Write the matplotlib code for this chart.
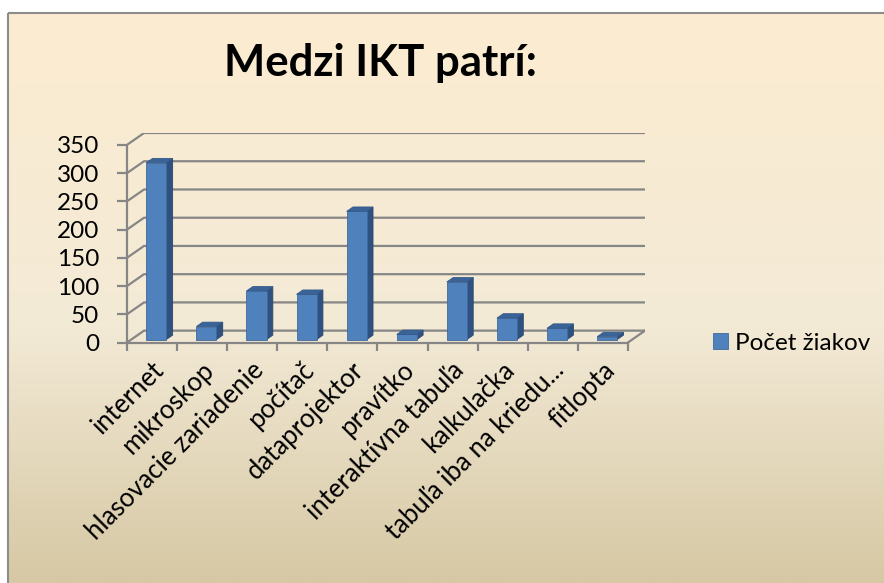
import numpy as np
import matplotlib
matplotlib.use('Agg')
import matplotlib.pyplot as plt
from matplotlib.patches import Polygon, Rectangle
from matplotlib.transforms import ScaledTranslation

# data
categories = ['internet', 'mikroskop', 'hlasovacie zariadenie', 'počítač', 'dataprojektor',
              'pravítko', 'interaktívna tabuľa', 'kalkulačka', 'tabuľa iba na kriedu...', 'fitlopta']
pocet_ziakov = [313, 23, 86, 80, 227, 9, 102, 38, 20, 5]
y_ticks = [0, 50, 100, 150, 200, 250, 300, 350]
series_name = 'Počet žiakov'
title = 'Medzi IKT patrí:'

W, H = 884, 583
plt.rcParams['font.family'] = ['Lato', 'DejaVu Sans']

fig = plt.figure(figsize=(W / 100, H / 100), dpi=100)
fig.patch.set_facecolor('white')

# background gradient with frame
bg = fig.add_axes([0, 0, 1, 1], zorder=-5)
bg.set_xlim(0, W)
bg.set_ylim(H, 0)
bg.axis('off')
stops = np.array([[252, 236, 209], [243, 234, 214], [214, 200, 164]]) / 255
t = np.linspace(0, 1, 300)
grad = np.stack([np.interp(t, [0, 0.55, 1], stops[:, k]) for k in range(3)], axis=1)
bg.imshow(grad[:, None, :], extent=[8, W, H, 13], aspect='auto', zorder=0)
bg.add_patch(Rectangle((8, 13), W, H, fill=False, edgecolor='#8c8c8c', lw=1.5, zorder=1))

fig.text(380 / W, 1 - 63 / H, title, ha='center', va='center',
         fontsize=31.5, fontweight='bold', color='black')

# 3D depth
dx, dy = 0.34, 21
f0, f1 = 0.25, 0.62
top_val = y_ticks[-1]

left, right = 127, 645
y0_px, ytop_px = 342.5, 133
ax = fig.add_axes([left / W, 1 - y0_px / H, (right - left) / W, (y0_px - ytop_px) / H])
ax.set_facecolor('none')
n = len(categories)
ax.set_xlim(-0.5, n - 0.5 + dx)
ax.set_ylim(0, top_val + dy)

grid_c = '#868686'
for v in y_ticks:
    ax.plot([-0.5, -0.5 + dx, n - 0.5 + dx], [v, v + dy, v + dy], color=grid_c, lw=1.6, zorder=1)
ax.plot([n - 0.5, n - 0.5 + dx], [0, dy], color=grid_c, lw=1.6, zorder=1)

x = np.arange(n)
bw = 0.4
ox, oy = f0 * dx, f0 * dy
sx, sy = (f1 - f0) * dx, (f1 - f0) * dy
bars = ax.bar(x + ox, pocet_ziakov, width=bw, bottom=oy, color='#4F81BD',
              edgecolor='#41699a', lw=0.6, zorder=3)
for xi, v in zip(x, pocet_ziakov):
    xl, xr = xi + ox - bw / 2, xi + ox + bw / 2
    b = oy
    side = [(xr, b), (xr + sx, b + sy), (xr + sx, b + sy + v), (xr, b + v)]
    top = [(xl, b + v), (xl + sx, b + v + sy), (xr + sx, b + v + sy), (xr, b + v)]
    ax.add_patch(Polygon(side, closed=True, facecolor='#2f5180', edgecolor='#2a4870', lw=0.6, zorder=2))
    ax.add_patch(Polygon(top, closed=True, facecolor='#3a6498', edgecolor='#34598a', lw=0.6, zorder=4))

for s in ['top', 'right']:
    ax.spines[s].set_visible(False)
ax.spines['left'].set_bounds(0, top_val)
ax.spines['bottom'].set_bounds(-0.5, n - 0.5)
for s in ['left', 'bottom']:
    ax.spines[s].set_color(grid_c)
    ax.spines[s].set_linewidth(1.6)

ax.set_yticks(y_ticks)
ax.set_yticklabels([str(v) for v in y_ticks], fontsize=17.5)
ax.tick_params(axis='y', length=7, width=1.6, color=grid_c, pad=13)

ax.set_xticks(x)
ax.set_xticks(np.arange(n + 1) - 0.5, minor=True)
ax.tick_params(axis='x', which='major', length=0, pad=0)
ax.tick_params(axis='x', which='minor', length=6, width=1.6, color=grid_c)
ax.set_xticklabels(categories, fontsize=18.5, rotation=45, ha='right', va='top',
                   rotation_mode='anchor')
offset = ScaledTranslation(-1 / 100, -15 / 100, fig.dpi_scale_trans)
for lab in ax.get_xticklabels():
    lab.set_transform(lab.get_transform() + offset)

ax.legend([bars], [series_name], loc='center left', bbox_to_anchor=(696 / W, 1 - 343 / H),
          bbox_transform=fig.transFigure, frameon=False, fontsize=17.5,
          handlelength=0.6, handleheight=0.6, handletextpad=0.3, borderpad=0.2)

fig.savefig('out.png', dpi=100)
